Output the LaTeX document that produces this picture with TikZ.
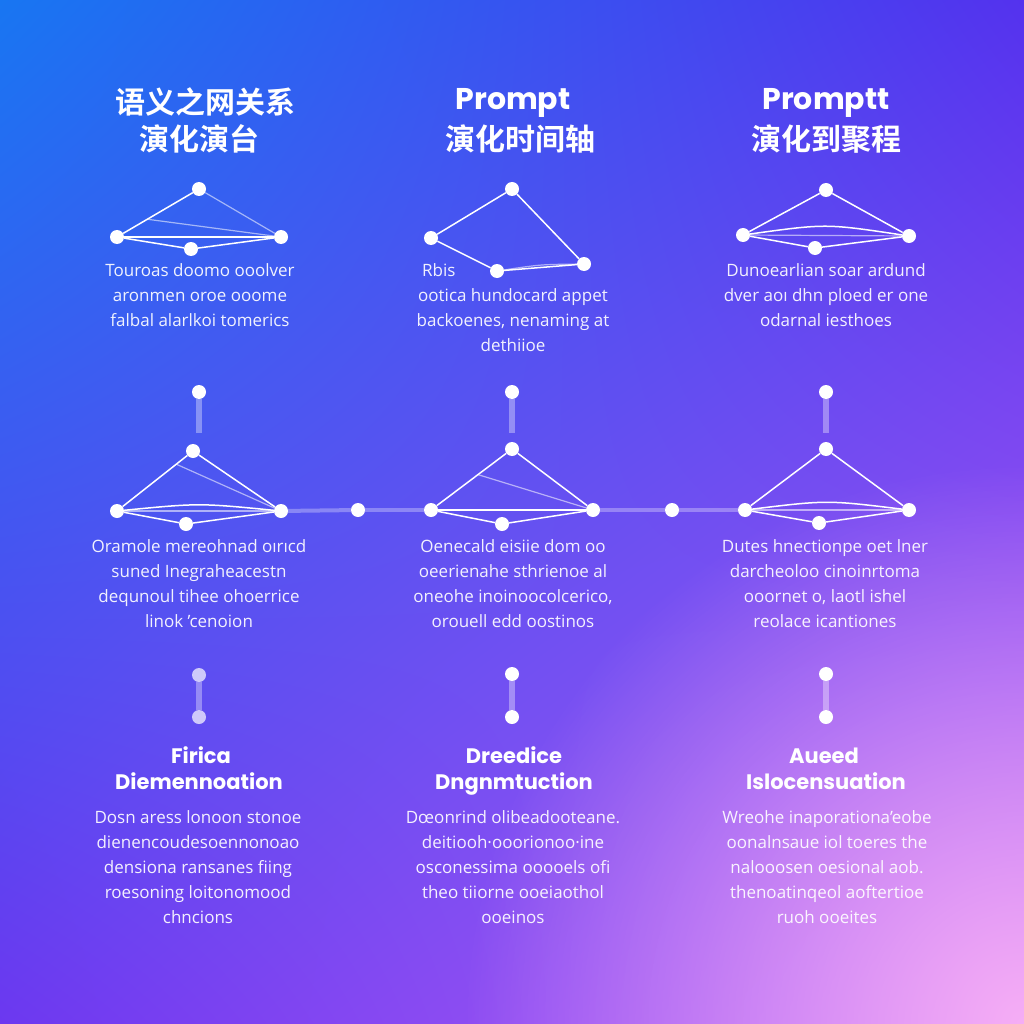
\documentclass[tikz,border=0pt]{standalone}
\usepackage{fontspec}
\setmainfont{Open Sans}
\newfontfamily\poppins{Poppins}
\newfontfamily\cjk{Noto Sans CJK SC}[BoldFont={Noto Sans CJK SC Bold}]
\usetikzlibrary{calc,fadings,shadings}
\tikzfading[name=glowfade, inner color=transparent!0, outer color=transparent!100]
\definecolor{bgTL}{RGB}{24,118,242}
\definecolor{bgTR}{RGB}{84,50,238}
\definecolor{bgBL}{RGB}{108,56,240}
\definecolor{bgBR}{RGB}{180,100,245}
\definecolor{glow}{RGB}{246,174,246}
\begin{document}
\begin{tikzpicture}[x=1pt,y=-1pt,
  dot/.style={circle,fill=white,inner sep=0pt,minimum size=14pt},
  softdot/.style={circle,fill=white,fill opacity=0.7,inner sep=0pt,minimum size=14pt},
  edge/.style={white,line width=1.5pt},
  faint/.style={white,line width=1.2pt,opacity=0.55},
  stem/.style={white,line width=6pt,opacity=0.35},
  timeline/.style={white,line width=4pt,opacity=0.3},
  cjktitle/.style={text=white,font=\cjk\bfseries\fontsize{30}{34}\selectfont,anchor=base,inner sep=0pt},
  entitle/.style={text=white,font=\poppins\bfseries\fontsize{30}{34}\selectfont,anchor=base,inner sep=0pt},
  subtitle/.style={text=white,font=\poppins\bfseries\fontsize{21}{26}\selectfont,anchor=base,inner sep=0pt},
  body/.style={text=white,text opacity=0.92,font=\fontsize{17}{25}\selectfont,align=center,anchor=north,inner sep=0pt},
  bodyline/.style={text=white,text opacity=0.92,font=\fontsize{17}{25}\selectfont,inner sep=0pt},
]
\useasboundingbox (0,0) rectangle (1024,1024);
\begin{scope}
\clip (0,0) rectangle (1024,1024);
\shade[upper left=bgTL,upper right=bgTR,lower left=bgBL,lower right=bgBR] (0,0) rectangle (1024,1024);
\fill[glow,path fading=glowfade] (1024,1024) circle (560);
\end{scope}

% ---------- titles ----------
\node[cjktitle] (t1a) at (205,114) {语义之网关系};
\node[cjktitle] (t1b) at (199,151) {演化演台};
\node[entitle] (t2a) at (513,110) {Prompt};
\node[cjktitle] (t2b) at (520,151) {演化时间轴};
\node[entitle] (t3a) at (826,110) {Promptt};
\node[cjktitle] (t3b) at (826,151) {演化到聚程};

% ---------- top graphs ----------
\node[dot] (T1) at (199,189) {};
\node[dot] (L1) at (117,237) {};
\node[dot] (B1) at (191,249) {};
\node[dot] (R1) at (281,237) {};
\coordinate (a1) at ($(L1)!0.37!(T1)$);
\draw[edge] (T1) -- (L1);
\draw[faint] (T1) -- (R1);
\draw[edge] (L1) -- (R1);
\draw[faint] (a1) -- (R1);
\draw[edge] (L1) -- (B1);
\draw[edge] (B1) -- (R1);

\node[dot] (T2) at (512,189) {};
\node[dot] (L2) at (431,238) {};
\node[dot] (B2) at (497,271) {};
\node[dot] (R2) at (584,264) {};
\draw[edge] (T2) -- (L2);
\draw[edge] (T2) -- (R2);
\draw[edge] (L2) -- (B2);
\draw[edge] (B2) -- (R2);
\draw[faint] (B2) .. controls ($(B2)!0.5!(R2)+(0,-3)$) .. (R2);

\node[dot] (T3) at (826,190) {};
\node[dot] (L3) at (743,235) {};
\node[dot] (B3) at (815,248) {};
\node[dot] (R3) at (909,236) {};
\draw[edge] (T3) -- (L3);
\draw[edge] (T3) -- (R3);
\draw[edge] (L3) .. controls ($(L3)!0.5!(R3)+(0,-12)$) .. (R3);
\draw[faint] (L3) -- (R3);
\draw[edge] (L3) -- (B3);
\draw[edge] (B3) -- (R3);

% ---------- top descriptions ----------
\node[body] (d1) at (200,263.5) {Touroas doomo ooolver\\aronmen oroe ooome\\falbal alarlkoi tomerics};
\node[bodyline,anchor=base west] (d2a) at (422,276) {Rbis};
\node[body] (d2) at (513,288.5) {ootica hundocard appet\\backoenes, nenaming at\\dethiioe};
\node[body] (d3) at (826,263.5) {Dunoearlian soar ardund\\dver aoı dhn ploed er one\\odarnal iesthoes};

% ---------- middle stems ----------
\node[dot] (V1) at (199,392) {};
\node[dot] (V2) at (512,392) {};
\node[dot] (V3) at (826,392) {};
\coordinate (V1e) at (199,433);
\coordinate (V2e) at (512,433);
\coordinate (V3e) at (826,433);
\draw[stem] (V1) -- (V1e);
\draw[stem] (V2) -- (V2e);
\draw[stem] (V3) -- (V3e);

% ---------- middle graphs ----------
\node[dot] (MT1) at (193,451) {};
\node[dot] (ML1) at (117,511) {};
\node[dot] (MR1) at (281,511) {};
\node[dot] (MB1) at (186,524) {};
\node[dot] (D1) at (358,510) {};

\node[dot] (MT2) at (512,449) {};
\node[dot] (ML2) at (431,510) {};
\node[dot] (MR2) at (593,510) {};
\node[dot] (MB2) at (502,524) {};
\node[dot] (D2) at (672,510) {};

\node[dot] (MT3) at (826,449) {};
\node[dot] (ML3) at (745,510) {};
\node[dot] (MR3) at (909,510) {};
\node[dot] (MB3) at (819,523) {};

\draw[timeline] (MR1) -- (D1);
\draw[timeline] (D1) -- (ML2);
\draw[timeline] (MR2) -- (D2);
\draw[timeline] (D2) -- (ML3);

\coordinate (ma1) at ($(MT1)!0.22!(ML1)$);
\draw[edge] (MT1) -- (ML1);
\draw[edge] (MT1) -- (MR1);
\draw[faint] (ma1) -- (MR1);
\draw[edge] (ML1) .. controls ($(ML1)!0.5!(MR1)+(0,-8)$) .. (MR1);
\draw[faint] (ML1) -- (MR1);
\draw[edge] (ML1) -- (MB1);
\draw[edge] (MB1) -- (MR1);

\coordinate (ma2) at ($(MT2)!0.42!(ML2)$);
\draw[edge] (MT2) -- (ML2);
\draw[edge] (MT2) -- (MR2);
\draw[faint] (ma2) -- (MR2);
\draw[edge] (ML2) -- (MR2);
\draw[edge] (ML2) -- (MB2);
\draw[edge] (MB2) -- (MR2);

\draw[edge] (MT3) -- (ML3);
\draw[edge] (MT3) -- (MR3);
\draw[edge] (ML3) .. controls ($(ML3)!0.5!(MR3)+(0,-10)$) .. (MR3);
\draw[faint] (ML3) -- (MR3);
\draw[edge] (ML3) -- (MB3);
\draw[edge] (MB3) -- (MR3);

% ---------- middle descriptions ----------
\node[body] (m1) at (199,539.5) {Oramole mereohnad oırıcd\\suned Inegraheacestn\\dequnoul tihee ohoerrice\\linok 'cenoion};
\node[body] (m2) at (513,539.5) {Oenecald eisiie dom oo\\oeerienahe sthrienoe al\\oneohe inoinoocolcerico,\\orouell edd oostinos};
\node[body] (m3) at (825,539.5) {Dutes hnectionpe oet lner\\darcheoloo cinoinrtoma\\ooornet o, laotl ishel\\reolace icantiones};

% ---------- bottom stems ----------
\node[softdot] (P1) at (199,675) {};
\node[softdot] (Q1) at (199,717) {};
\node[dot] (P2) at (512,674) {};
\node[dot] (Q2) at (512,717) {};
\node[dot] (P3) at (826,674) {};
\node[dot] (Q3) at (826,717) {};
\draw[stem] (P1) -- (Q1);
\draw[stem] (P2) -- (Q2);
\draw[stem] (P3) -- (Q3);

% ---------- bottom titles ----------
\node[subtitle] (s1a) at (201,763) {Firica};
\node[subtitle] (s1b) at (199,789) {Diemennoation};
\node[subtitle] (s2a) at (514,763) {Dreedice};
\node[subtitle] (s2b) at (514,789) {Dngnmtuction};
\node[subtitle] (s3a) at (824,763) {Aueed};
\node[subtitle] (s3b) at (826,789) {Islocensuation};

% ---------- bottom descriptions ----------
\node[body] (b1) at (198,810.5) {Dosn aress lonoon stonoe\\dienencoudesoennonoao\\densiona ransanes fiing\\roesoning loitonomood\\chncions};
\node[body] (b2) at (513,810.5) {Dœonrind olibeadooteane.\\deitiooh·ooorionoo·ine\\osconessima ooooels ofi\\theo tiiorne ooeiaothol\\ooeinos};
\node[body] (b3) at (827,810.5) {Wreohe inaporationa'eobe\\oonalnsaue iol toeres the\\nalooosen oesional aob.\\thenoatinqeol aoftertioe\\ruoh ooeites};
\end{tikzpicture}
\end{document}
